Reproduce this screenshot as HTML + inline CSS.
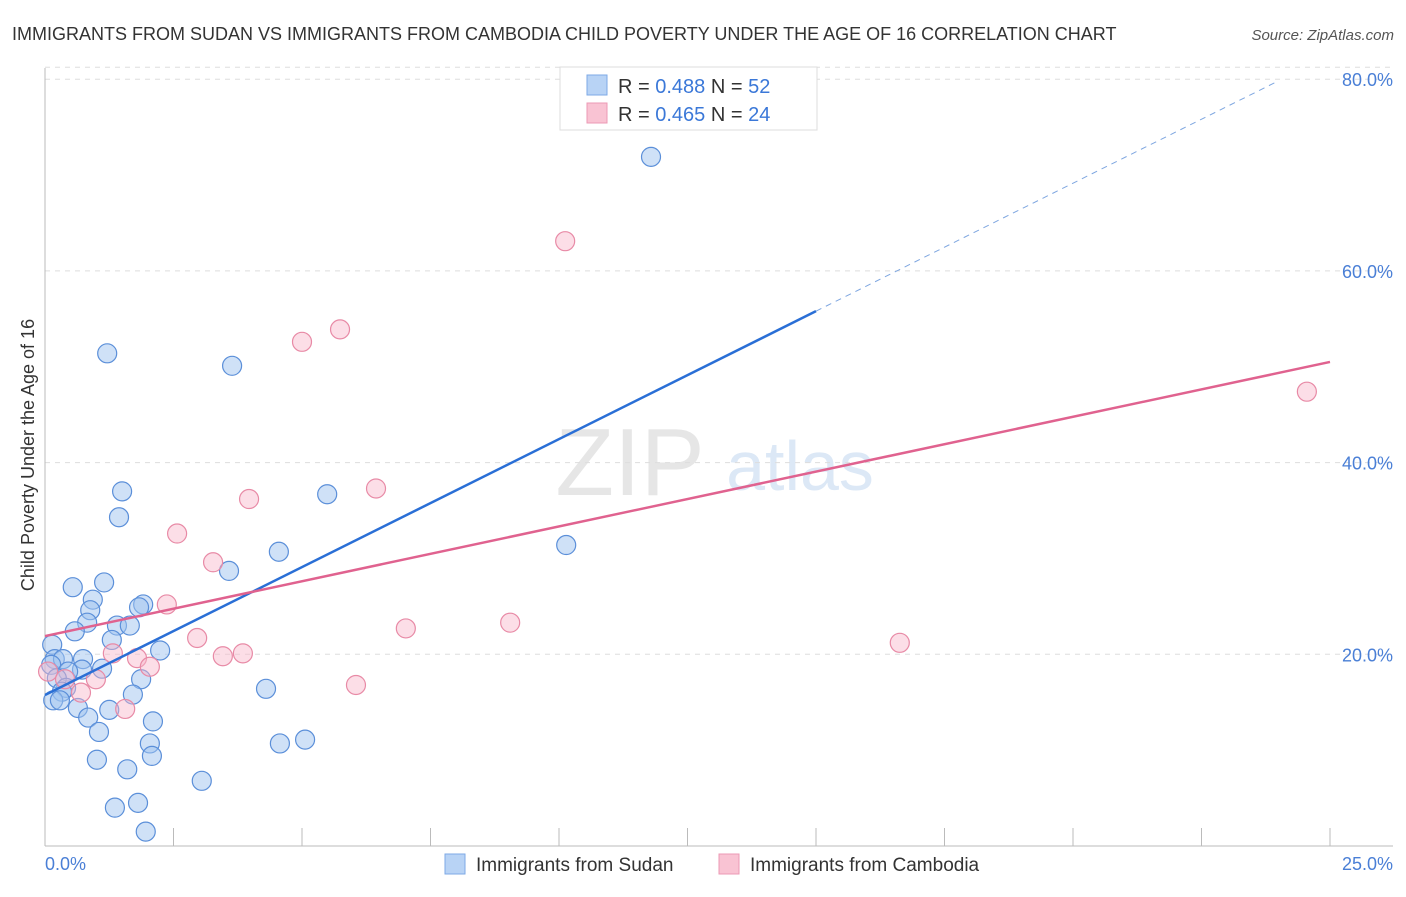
<!DOCTYPE html>
<html><head><meta charset="utf-8"><style>
body{margin:0;background:#fff;font-family:"Liberation Sans",sans-serif;}
svg text{font-family:"Liberation Sans",sans-serif;}
</style></head><body>
<svg id="c" width="1406" height="892" xmlns="http://www.w3.org/2000/svg">
<text x="12" y="40" font-size="18" fill="#333">IMMIGRANTS FROM SUDAN VS IMMIGRANTS FROM CAMBODIA CHILD POVERTY UNDER THE AGE OF 16 CORRELATION CHART</text>
<text x="1394" y="40" font-size="15" fill="#555" font-style="italic" text-anchor="end">Source: ZipAtlas.com</text>
<text x="630" y="495" font-size="96" fill="#e6e6e6" font-family="Liberation Serif" text-anchor="middle">ZIP</text>
<text x="800" y="490" font-size="70" fill="#dce8f6" text-anchor="middle">atlas</text>
<g id="grid"></g><g id="axes"></g><g id="marks"></g><g id="lines"></g>
<text transform="translate(34,455) rotate(-90)" font-size="18" fill="#333" text-anchor="middle">Child Poverty Under the Age of 16</text>
<text x="45" y="870" font-size="18" fill="#4a7fd6">0.0%</text>
<text x="1393" y="870" font-size="18" fill="#4a7fd6" text-anchor="end">25.0%</text>
<g>
<rect x="560" y="67" width="257" height="63" fill="#fff" stroke="#ddd"/>
<rect x="587" y="75" width="20" height="20" fill="#b8d3f5" stroke="#7eaae6"/>
<rect x="587" y="103" width="20" height="20" fill="#f9c3d3" stroke="#ec9ab4"/>
<text x="618" y="93" font-size="20" fill="#333">R = <tspan fill="#3b78d8">0.488</tspan>   N = <tspan fill="#3b78d8">52</tspan></text>
<text x="618" y="121" font-size="20" fill="#333">R = <tspan fill="#3b78d8">0.465</tspan>   N = <tspan fill="#3b78d8">24</tspan></text>
</g>
<g>
<rect x="445" y="854" width="20" height="20" fill="#b8d3f5" stroke="#7eaae6"/>
<text x="476" y="871" font-size="19" fill="#333">Immigrants from Sudan</text>
<rect x="719" y="854" width="20" height="20" fill="#f9c3d3" stroke="#ec9ab4"/>
<text x="750" y="871" font-size="19" fill="#333">Immigrants from Cambodia</text>
</g>
</svg>
<script>
const yTicks=[20,40,60,80];
const xTicks=[0,2.5,5,7.5,10,12.5,15,17.5,20,22.5,25];
const sudanX=[11.79,1.21,3.64,1.50,5.49,1.44,10.14,4.55,3.58,0.54,1.15,0.93,1.91,1.83,0.88,0.82,0.58,1.40,1.65,1.30,2.24,0.14,0.19,0.35,0.74,0.12,0.72,1.11,0.45,0.23,1.87,0.41,0.33,4.30,1.71,0.16,0.29,0.64,1.25,0.84,2.10,1.05,2.04,4.57,5.06,2.08,1.01,1.60,3.05,1.81,1.36,1.96];
const sudanY=[71.9,51.4,50.1,37.0,36.7,34.3,31.4,30.7,28.7,27.0,27.5,25.7,25.2,24.9,24.6,23.3,22.4,23.0,23.0,21.5,20.4,21.0,19.5,19.5,19.5,18.9,18.4,18.5,18.2,17.5,17.4,16.5,16.1,16.4,15.8,15.2,15.2,14.4,14.2,13.4,13.0,11.9,10.7,10.7,11.1,9.4,9.0,8.0,6.8,4.5,4.0,1.5];
const cambX=[10.12,5.74,5.00,24.55,6.44,3.97,2.57,3.27,2.37,7.02,9.05,2.96,16.63,3.46,3.85,1.32,1.79,2.04,0.06,0.39,0.99,0.70,1.56,6.05];
const cambY=[63.1,53.9,52.6,47.4,37.3,36.2,32.6,29.6,25.2,22.7,23.3,21.7,21.2,19.8,20.1,20.1,19.6,18.7,18.2,17.4,17.4,16.0,14.3,16.8];
const sudanFit=[15.75,2.67];
const cambFit=[21.9,1.144];
const NS="http://www.w3.org/2000/svg";
const sx=v=>45+v/25*1285, sy=v=>846-v*9.585;
function mk(t,a,p){const e=document.createElementNS(NS,t);for(const k in a)e.setAttribute(k,a[k]);document.getElementById(p).appendChild(e);return e;}
yTicks.forEach(t=>{
 const l=mk('line',{x1:45,x2:1393,y1:sy(t),y2:sy(t),stroke:'#ddd','stroke-dasharray':'5,5'},'grid');
 
 
 const tx=mk('text',{x:1393,y:sy(t)+7,'font-size':18,fill:'#4a7fd6','text-anchor':'end'},'grid');
 tx.textContent=t.toFixed(1)+'%';
 
 
});
mk('line',{x1:45,x2:1393,y1:sy(80)-12,y2:sy(80)-12,stroke:'#ddd','stroke-dasharray':'5,5'},'grid');
const ya=mk('line',{x1:45,x2:45,y1:68,y2:846,stroke:'#bbb'},'axes');


const xa=mk('line',{x1:45,x2:1393,y1:846,y2:846,stroke:'#bbb'},'axes');


xTicks.forEach(t=>{
 const l=mk('line',{x1:sx(t),x2:sx(t),y1:846,y2:828,stroke:'#bbb'},'axes');
 
 
});
function pts(X,Y,fill,stroke,name){
 X.forEach((x,i)=>{
  const c=mk('circle',{cx:sx(x),cy:sy(Y[i]),r:9.5,fill:fill,stroke:stroke,'stroke-width':1.2},'marks');
  
  
 });
}
pts(sudanX,sudanY,'rgba(160,195,240,0.5)','#5b8fd9','sudan-point');
pts(cambX,cambY,'rgba(248,182,202,0.45)','#e88aa6','cambodia-point');
const b1=mk('line',{x1:sx(0),y1:sy(sudanFit[0]),x2:sx(15),y2:sy(sudanFit[0]+sudanFit[1]*15),stroke:'#2a6fd6','stroke-width':2.5},'lines');


const b2=mk('line',{x1:sx(15),y1:sy(sudanFit[0]+sudanFit[1]*15),x2:sx(23.93),y2:sy(sudanFit[0]+sudanFit[1]*23.93),stroke:'#7ea6e0','stroke-width':1,'stroke-dasharray':'6,5'},'lines');


const p1=mk('line',{x1:sx(0),y1:sy(cambFit[0]),x2:sx(25),y2:sy(cambFit[0]+cambFit[1]*25),stroke:'#e0628f','stroke-width':2.5},'lines');


</script>
</body></html>
